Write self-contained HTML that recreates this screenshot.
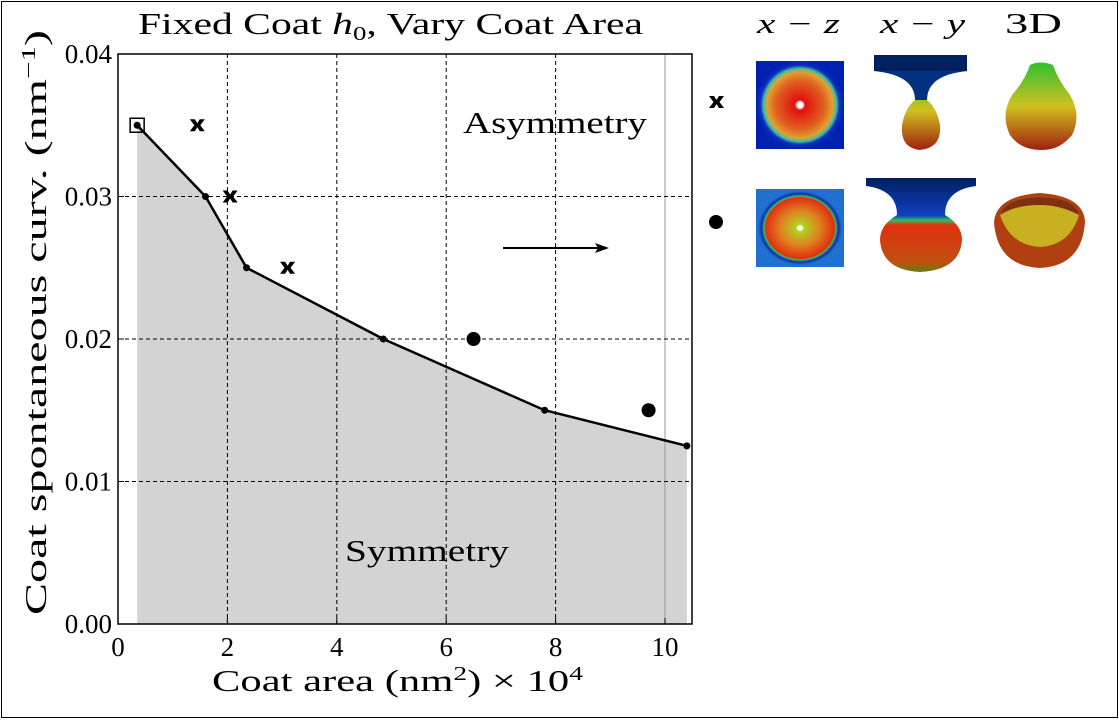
<!DOCTYPE html>
<html><head><meta charset="utf-8"><style>
body{margin:0;width:1119px;height:719px;background:#fff;overflow:hidden}
svg text{font-family:"Liberation Serif",serif;fill:#000}
</style></head><body>
<svg width="1119" height="719">
<defs>
<radialGradient id="g1"><stop offset="0.06" stop-color="#fff"/><stop offset="0.12" stop-color="#e01010"/><stop offset="0.55" stop-color="#e06020"/><stop offset="0.75" stop-color="#e0a030"/><stop offset="0.83" stop-color="#40c0a0"/><stop offset="0.9" stop-color="#1030c0"/><stop offset="1" stop-color="#0020b0"/></radialGradient>
<radialGradient id="g2"><stop offset="0.04" stop-color="#fff"/><stop offset="0.1" stop-color="#b0d020"/><stop offset="0.45" stop-color="#e08020"/><stop offset="0.78" stop-color="#e03010"/><stop offset="0.82" stop-color="#30c060"/><stop offset="0.87" stop-color="#1030b0"/><stop offset="0.95" stop-color="#2070d0"/></radialGradient>
<linearGradient id="g3" x1="0" y1="0" x2="0" y2="1"><stop offset="0" stop-color="#30c030"/><stop offset="0.5" stop-color="#d0c020"/><stop offset="1" stop-color="#a02010"/></linearGradient>
<linearGradient id="g4" x1="0" y1="0" x2="0" y2="1"><stop offset="0" stop-color="#002060"/><stop offset="0.4" stop-color="#1040c0"/><stop offset="0.45" stop-color="#30c060"/><stop offset="0.5" stop-color="#e03010"/><stop offset="0.9" stop-color="#c05010"/><stop offset="1" stop-color="#608010"/></linearGradient>
</defs>
<rect x="1.5" y="1.5" width="1116" height="716" fill="none" stroke="#000"/>
<g id="chart"></g>
<text x="138" y="34" font-size="31" textLength="505" lengthAdjust="spacingAndGlyphs">Fixed Coat <tspan font-style="italic">h</tspan><tspan font-size="20" dy="6">0</tspan><tspan dy="-6">, Vary Coat Area</tspan></text>
<text x="212" y="691" font-size="31" textLength="371" lengthAdjust="spacingAndGlyphs">Coat area (nm<tspan font-size="20" dy="-11">2</tspan><tspan dy="11">) × 10</tspan><tspan font-size="20" dy="-11">4</tspan></text>
<text transform="translate(46,615) rotate(-90)" font-size="31" textLength="585" lengthAdjust="spacingAndGlyphs">Coat spontaneous curv. (nm<tspan font-size="20" dy="-11">−1</tspan><tspan dy="11">)</tspan></text>
<text x="463" y="133" font-size="31" textLength="184" lengthAdjust="spacingAndGlyphs">Asymmetry</text>
<text x="345" y="561" font-size="31" textLength="164" lengthAdjust="spacingAndGlyphs">Symmetry</text>
<line x1="503" y1="248" x2="600" y2="248" stroke="#000" stroke-width="2"/>
<path d="M609 248 L595 243 L598 248 L595 253Z" fill="#000"/>
<text x="757" y="33" font-size="28" font-style="italic" textLength="83" lengthAdjust="spacingAndGlyphs">x − z</text>
<text x="880" y="33" font-size="28" font-style="italic" textLength="85" lengthAdjust="spacingAndGlyphs">x − y</text>
<text x="1005" y="33" font-size="28" textLength="57" lengthAdjust="spacingAndGlyphs">3D</text>
<path d="M709 96 l5 0 2.5 4 2.5-4 5 0 -4.5 6 4.5 6 -5 0 -2.5-4 -2.5 4 -5 0 4.5-6z" fill="#000"/>
<circle cx="716" cy="222" r="7" fill="#000"/>
<rect x="756" y="61" width="88" height="88" fill="url(#g1)"/>
<g><rect x="874" y="55" width="93" height="16" fill="#002060"/><path d="M874 71 Q915 75 915 100 Q905 108 902 125 Q900 148 920 150 Q942 148 940 125 Q937 108 927 100 Q927 75 967 71Z" fill="url(#g3)"/><path d="M874 71 Q915 75 915 100 L927 100 Q927 75 967 71Z" fill="#003080"/></g>
<path d="M1030 65 Q1040 60 1053 65 Q1058 80 1070 95 Q1082 115 1072 135 Q1060 150 1042 150 Q1020 150 1010 135 Q1000 115 1012 95 Q1025 80 1030 65Z" fill="url(#g3)"/>
<rect x="756" y="189" width="88" height="78" fill="url(#g2)"/>
<path d="M866 178 L976 178 L976 186 Q945 190 945 215 Q962 225 962 240 Q960 270 920 272 Q882 270 880 240 Q880 225 897 215 Q897 190 866 186Z" fill="url(#g4)"/>
<g><path d="M994 222 Q996 196 1040 193 Q1084 196 1085 222 Q1082 266 1040 268 Q997 266 994 222Z" fill="#b04010"/><path d="M1000 215 Q1005 198 1040 197 Q1076 198 1079 215 Q1070 245 1040 247 Q1010 245 1000 215Z" fill="#c8b020"/><path d="M1000 215 Q1005 198 1040 197 Q1076 198 1079 215 Q1060 205 1040 205 Q1015 205 1000 215Z" fill="#803010"/></g>
</svg>
<script>
const xTicks=[0,2,4,6,8,10];
const yTicks=[0,0.01,0.02,0.03,0.04];
const yTickLabels=["0.00","0.01","0.02","0.03","0.04"];
const boundaryX=[0.35,1.6,2.35,4.85,7.8,10.4];
const boundaryY=[0.035,0.03,0.025,0.02,0.015,0.0125];
const crossX=[1.45,2.05,3.1];
const crossY=[0.035,0.03,0.025];
const circleX=[6.5,9.7];
const circleY=[0.02,0.015];
const L=118,R=692,T=54,B=624;
const sx=v=>118+v*54.7, sy=v=>B-v/0.04*(B-T);
const NS="http://www.w3.org/2000/svg", g=document.getElementById('chart');
function mk(t,a,p){const e=document.createElementNS(NS,t);for(const k in a)e.setAttribute(k,a[k]);(p||g).appendChild(e);return e;}
let pts=boundaryX.map((x,i)=>sx(x)+','+sy(boundaryY[i]));
const area=mk('polygon',{points:sx(boundaryX[0])+','+B+' '+pts.join(' ')+' '+sx(boundaryX[boundaryX.length-1])+','+B,fill:'#d3d3d3'});


xTicks.forEach(v=>{if(v>0){const l=mk('line',{x1:sx(v),x2:sx(v),y1:T,y2:B,stroke:v==10?'#999':'#000','stroke-width':1,'stroke-dasharray':v==10?'':'4,3'});

}
mk('line',{x1:sx(v),x2:sx(v),y1:B,y2:B-6,stroke:'#000'});
const t=mk('text',{x:sx(v),y:B+32,'font-size':27,'text-anchor':'middle'});t.textContent=v;

});
yTicks.forEach((v,i)=>{if(v>0&&v<0.04){const l=mk('line',{x1:L,x2:R,y1:sy(v),y2:sy(v),stroke:'#000','stroke-dasharray':'4,3'});

}
mk('line',{x1:L,x2:L+6,y1:sy(v),y2:sy(v),stroke:'#000'});
const t=mk('text',{x:L-6,y:sy(v)+9,'font-size':27,'text-anchor':'end'});t.textContent=yTickLabels[i];

});
const line=mk('polyline',{points:pts.join(' '),fill:'none',stroke:'#000','stroke-width':2.5});


boundaryX.forEach((x,i)=>{const c=mk('circle',{cx:sx(x),cy:sy(boundaryY[i]),r:3.5,fill:'#000'});

});
const sq=mk('rect',{x:sx(boundaryX[0])-7,y:sy(boundaryY[0])-7,width:14,height:14,fill:'none',stroke:'#000','stroke-width':1.5});


crossX.forEach((x,i)=>{const cx=sx(x),cy=sy(crossY[i]);
const p=mk('path',{d:`M${cx-7.5} ${cy-6} l5 0 2.5 4 2.5-4 5 0 -4.5 6 4.5 6 -5 0 -2.5-4 -2.5 4 -5 0 4.5-6z`,fill:'#000'});

});
circleX.forEach((x,i)=>{const c=mk('circle',{cx:sx(x),cy:sy(circleY[i]),r:7,fill:'#000'});

});
const fr=mk('rect',{x:L,y:T,width:R-L,height:B-T,fill:'none',stroke:'#000','stroke-width':1.5});


</script>
</body></html>
